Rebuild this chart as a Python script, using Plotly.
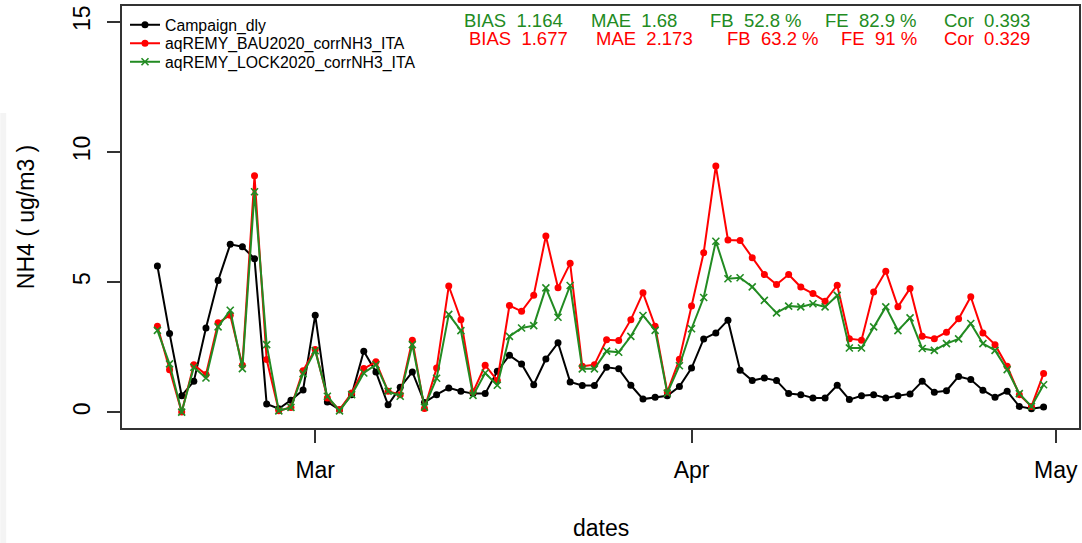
import plotly.graph_objects as go
import pandas as pd

start_date = "2020-02-17"
n_days = 74
dates = pd.date_range(start_date, periods=n_days, freq="D")

campaign = [5.62, 3.03, 0.64, 1.19, 3.24, 5.06, 6.45, 6.36, 5.90, 0.32,
            0.14, 0.47, 0.86, 3.73, 0.40, 0.10, 0.68, 2.35, 1.55, 0.29,
            0.96, 1.55, 0.38, 0.68, 0.94, 0.81, 0.72, 0.72, 1.58, 2.19,
            1.86, 1.06, 2.05, 2.67, 1.17, 1.03, 1.03, 1.73, 1.67, 1.04,
            0.51, 0.58, 0.64, 0.99, 1.70, 2.82, 3.05, 3.54, 1.62, 1.22,
            1.32, 1.22, 0.72, 0.68, 0.55, 0.55, 1.04, 0.49, 0.64, 0.68,
            0.55, 0.64, 0.71, 1.19, 0.77, 0.83, 1.38, 1.26, 0.85, 0.58,
            0.81, 0.23, 0.14, 0.21]

bau = [3.31, 1.64, 0.01, 1.83, 1.45, 3.44, 3.73, 1.81, 9.08, 2.03,
       0.06, 0.19, 1.60, 2.41, 0.55, 0.10, 0.74, 1.68, 1.94, 0.81,
       0.68, 2.77, 0.15, 1.70, 4.85, 3.56, 0.78, 1.81, 1.22, 4.10,
       3.88, 4.50, 6.77, 4.78, 5.72, 1.77, 1.83, 2.79, 2.76, 3.56,
       4.59, 3.31, 0.78, 2.04, 4.08, 6.13, 9.46, 6.62, 6.60, 5.94,
       5.29, 4.91, 5.29, 4.81, 4.56, 4.27, 4.88, 2.83, 2.77, 4.62,
       5.42, 4.05, 4.76, 2.92, 2.83, 3.08, 3.59, 4.44, 3.05, 2.60,
       1.77, 0.68, 0.23, 1.49]

lock = [3.15, 1.86, 0.01, 1.73, 1.32, 3.28, 3.92, 1.68, 8.47, 2.60,
        0.06, 0.19, 1.49, 2.37, 0.62, 0.06, 0.68, 1.51, 1.83, 0.81,
        0.62, 2.60, 0.20, 1.31, 3.76, 3.14, 0.65, 1.51, 1.04, 2.92,
        3.24, 3.33, 4.78, 3.65, 4.87, 1.67, 1.67, 2.35, 2.31, 2.92,
        3.72, 3.15, 0.74, 1.79, 3.21, 4.41, 6.57, 5.13, 5.17, 4.82,
        4.30, 3.82, 4.08, 4.05, 4.17, 4.05, 4.49, 2.47, 2.47, 3.28,
        4.05, 3.14, 3.63, 2.45, 2.38, 2.64, 2.82, 3.41, 2.64, 2.38,
        1.64, 0.72, 0.23, 1.06]

series_names = ["Campaign_dly", "aqREMY_BAU2020_corrNH3_ITA", "aqREMY_LOCK2020_corrNH3_ITA"]

x_tick_vals = ["2020-03-01", "2020-04-01", "2020-05-01"]
x_tick_text = ["Mar", "Apr", "May"]
y_tick_vals = [0, 5, 10, 15]

stats_lock = ["BIAS  1.164", "MAE  1.68", "FB  52.8 %", "FE  82.9 %", "Cor  0.393"]
stats_bau = ["BIAS  1.677", "MAE  2.173", "FB  63.2 %", "FE  91 %", "Cor  0.329"]

GREEN = "#228B22"
RED = "#FF0000"
FONT = "Liberation Sans, Arial, sans-serif"

W, H = 1082, 543
L, R, T, B = 122, 1, 6, 115
PW, PH = W - L - R, H - T - B

def px2x(px):
    return (px - L) / PW

def py2y(py):
    return (H - B - py) / PH

fig = go.Figure()
fig.add_trace(go.Scatter(x=dates, y=campaign, mode="lines+markers", name=series_names[0],
                         legend="legend",
                         line=dict(color="black", width=2),
                         marker=dict(symbol="circle", size=7, color="black")))
fig.add_trace(go.Scatter(x=dates, y=bau, mode="lines+markers", name=series_names[1],
                         legend="legend2",
                         line=dict(color=RED, width=2),
                         marker=dict(symbol="circle", size=7, color=RED)))
fig.add_trace(go.Scatter(x=dates, y=lock, mode="lines+markers", name=series_names[2],
                         legend="legend3",
                         line=dict(color=GREEN, width=2),
                         marker=dict(symbol="x-thin", size=7, color=GREEN,
                                     line=dict(color=GREEN, width=1.6))))

annotations = []
green_x = [463, 590, 709, 824, 944]
red_x = [468, 595, 726, 840, 944]
for txt, px in zip(stats_lock, green_x):
    annotations.append(dict(x=px2x(px), y=py2y(20), xref="paper", yref="paper",
                            text=txt.replace("  ", "&nbsp;&nbsp;"), showarrow=False,
                            xanchor="left", yanchor="middle",
                            font=dict(family=FONT, size=18.5, color=GREEN)))
for txt, px in zip(stats_bau, red_x):
    annotations.append(dict(x=px2x(px), y=py2y(38.5), xref="paper", yref="paper",
                            text=txt.replace("  ", "&nbsp;&nbsp;"), showarrow=False,
                            xanchor="left", yanchor="middle",
                            font=dict(family=FONT, size=18.5, color=RED)))
annotations.append(dict(x=px2x(26), y=py2y(217), xref="paper", yref="paper",
                        text="NH4 ( ug/m3 )", showarrow=False, textangle=-90,
                        xanchor="center", yanchor="middle",
                        font=dict(family=FONT, size=23, color="black")))
annotations.append(dict(x=px2x(601.5), y=py2y(528), xref="paper", yref="paper",
                        text="dates", showarrow=False,
                        xanchor="center", yanchor="middle",
                        font=dict(family=FONT, size=23, color="black")))

def leg(py):
    return dict(x=px2x(125), y=py2y(py), xanchor="left", yanchor="middle",
                bgcolor="rgba(0,0,0,0)", borderwidth=0,
                font=dict(family=FONT, size=15.8, color="black"),
                itemwidth=30)

fig.update_layout(
    width=W, height=H,
    margin=dict(l=L, r=R, t=T, b=B),
    paper_bgcolor="white", plot_bgcolor="white",
    font=dict(family=FONT, color="black"),
    showlegend=True,
    legend=leg(25), legend2=leg(43.5), legend3=leg(62),
    annotations=annotations,
    shapes=[dict(type="rect", xref="paper", yref="paper",
                 x0=px2x(0), x1=px2x(6), y0=py2y(543), y1=py2y(113),
                 fillcolor="#f4f4f4", line=dict(width=0), layer="below")],
)

fig.update_xaxes(type="date", range=["2020-02-14 02:00", "2020-05-02 22:00"],
                 tickvals=x_tick_vals, ticktext=x_tick_text,
                 ticks="outside", ticklen=13, tickwidth=1.5, tickcolor="#333",
                 showline=True, linecolor="#333", linewidth=1.5, mirror=True,
                 showgrid=False, zeroline=False,
                 tickfont=dict(family=FONT, size=23, color="black"),
                 ticklabelstandoff=8)
fig.update_yaxes(range=[-0.6, 15.6], tickvals=y_tick_vals,
                 ticks="outside", ticklen=13, tickwidth=1.5, tickcolor="#333",
                 showline=True, linecolor="#333", linewidth=1.5, mirror=True,
                 showgrid=False, zeroline=False, tickangle=-90,
                 tickfont=dict(family=FONT, size=23, color="black"),
                 ticklabelstandoff=8)

fig.write_html("out.html")
